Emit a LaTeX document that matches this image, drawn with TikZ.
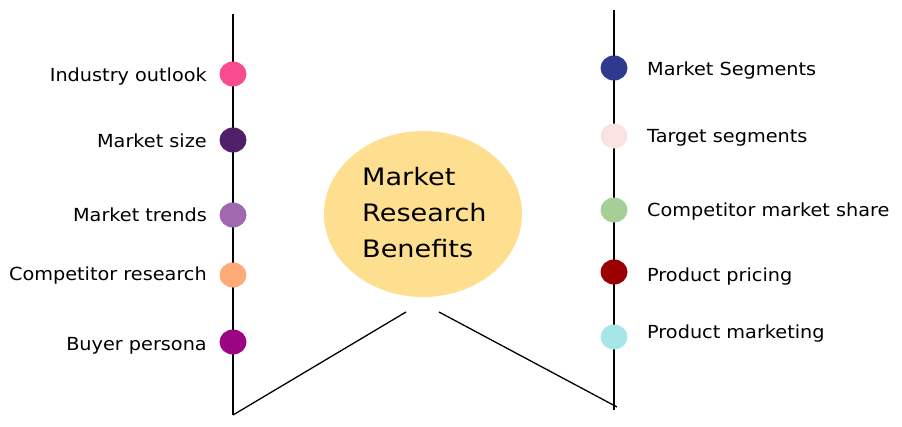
\documentclass[tikz,border=0pt]{standalone}
\usepackage{fontspec}
\setmainfont{DejaVu Sans}
\newfontfamily\lblfont[FakeStretch=1.07]{DejaVu Sans}
\newfontfamily\hubfont[FakeStretch=1.13]{DejaVu Sans}
\usetikzlibrary{shapes.geometric}
\definecolor{cyellow}{HTML}{FDDF8F}
\definecolor{d1}{HTML}{F94C8E}
\definecolor{d2}{HTML}{4F1F68}
\definecolor{d3}{HTML}{A068AE}
\definecolor{d4}{HTML}{FFAB78}
\definecolor{d5}{HTML}{990582}
\definecolor{e1}{HTML}{2F3A8F}
\definecolor{e2}{HTML}{FBE3E3}
\definecolor{e3}{HTML}{A6CF98}
\definecolor{e4}{HTML}{9A0000}
\definecolor{e5}{HTML}{A7E6E8}
\tikzset{
  rail/.style={line width=0.85pt, black},
  dot/.style={ellipse, minimum width=27pt, minimum height=25pt, inner sep=0pt},
  lbl/.style={font=\lblfont\fontsize{18}{20}\selectfont, inner sep=0pt},
  hubtxt/.style={font=\hubfont\fontsize{24}{30}\selectfont, inner sep=0pt, anchor=base west},
  hub/.style={ellipse, fill=cyellow, minimum width=198pt, minimum height=166pt, inner sep=0pt}
}
\begin{document}
\begin{tikzpicture}[x=1pt,y=-1pt]
\useasboundingbox (0,0) rectangle (902,426);
% rails
\coordinate (lt) at (233,14);
\coordinate (lb) at (233,415);
\coordinate (rt) at (614,10);
\coordinate (rb) at (614,410);
\coordinate (ls) at (406,312);
\coordinate (rs) at (439,312);
\coordinate (re) at (617,407);
\draw[rail] ([xshift=-0.9pt]lt) -- ([xshift=-0.9pt]lb);
\draw[rail] ([xshift=0.9pt]lt) -- ([xshift=0.9pt]lb);
\draw[rail] ([xshift=-0.9pt]rt) -- ([xshift=-0.9pt]rb);
\draw[rail] ([xshift=0.9pt]rt) -- ([xshift=0.9pt]rb);
\draw[rail, line width=1.3pt] (lb) -- (ls);
\draw[rail, line width=1.3pt] (rs) -- (re);
% hub
\node[hub] (hub) at (423,214) {};
\node[hubtxt] (ht1) at (362,185) {Market};
\node[hubtxt] (ht2) at (362,221) {Research};
\node[hubtxt] (ht3) at (362,257) {Benefits};
% left dots and labels
\node[dot, fill=d1] (a1) at (233,74) {};
\node[dot, fill=d2] (a2) at (233,140) {};
\node[dot, fill=d3] (a3) at (233,215) {};
\node[dot, fill=d4] (a4) at (233,275) {};
\node[dot, fill=d5] (a5) at (233,342) {};
\node[lbl, anchor=base east] (la1) at (207,81) {Industry outlook};
\node[lbl, anchor=base east] (la2) at (207,147) {Market size};
\node[lbl, anchor=base east] (la3) at (207,221) {Market trends};
\node[lbl, anchor=base east] (la4) at (207,280) {Competitor research};
\node[lbl, anchor=base east] (la5) at (207,350) {Buyer persona};
% right dots and labels
\node[dot, fill=e1] (b1) at (614,68) {};
\node[dot, fill=e2] (b2) at (614,136) {};
\node[dot, fill=e3] (b3) at (614,210) {};
\node[dot, fill=e4] (b4) at (614,272) {};
\node[dot, fill=e5] (b5) at (614,337) {};
\node[lbl, anchor=base west] (lb1) at (647,75) {Market Segments};
\node[lbl, anchor=base west] (lb2) at (647,142) {Target segments};
\node[lbl, anchor=base west] (lb3) at (647,216) {Competitor market share};
\node[lbl, anchor=base west] (lb4) at (647,281) {Product pricing};
\node[lbl, anchor=base west] (lb5) at (647,338) {Product marketing};
\end{tikzpicture}
\end{document}
